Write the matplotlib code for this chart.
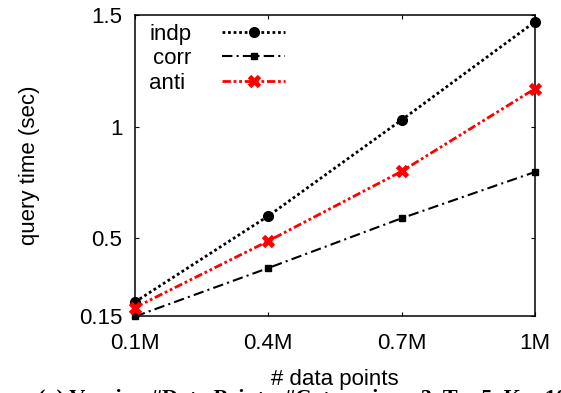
import matplotlib
matplotlib.use('Agg')
import matplotlib.pyplot as plt

# values
x_labels = ['0.1M', '0.4M', '0.7M', '1M']
x_vals = [0.1, 0.4, 0.7, 1.0]
indp = [0.215, 0.60, 1.03, 1.47]
corr = [0.15, 0.367, 0.59, 0.797]
anti = [0.19, 0.488, 0.80, 1.17]
y_ticks = [0.15, 0.5, 1.0, 1.5]
y_tick_labels = ['0.15', '0.5', '1', '1.5']

plt.rcParams['font.family'] = ['Liberation Sans', 'DejaVu Sans']

fig = plt.figure(figsize=(5.61, 3.93), dpi=100)
ax = fig.add_axes([0.2406, 0.1947, 0.713, 0.7671])

ax.plot(x_vals, indp, color='black', linestyle=(0, (1, 1)), linewidth=2,
        marker='o', markersize=7, label='indp', clip_on=False, zorder=3)
ax.plot(x_vals, corr, color='black', linestyle=(0, (5, 2, 1, 2)), linewidth=1.5,
        marker='s', markersize=4.5, label='corr', clip_on=False, zorder=3)
ax.plot(x_vals, anti, color='red', linestyle=(0, (3, 1, 1, 1, 1, 1)), linewidth=2,
        marker='x', markersize=7.5, markeredgewidth=3.5, label='anti ',
        clip_on=False, zorder=4)

ax.set_xlim(0.1, 1.0)
ax.set_ylim(0.15, 1.5)
ax.set_xticks(x_vals)
ax.set_xticklabels(x_labels)
ax.set_yticks(y_ticks)
ax.set_yticklabels(y_tick_labels)
ax.tick_params(direction='in', top=True, right=True, length=3, width=0.8,
               labelsize=16)
ax.tick_params(axis='y', pad=9)
ax.tick_params(axis='x', pad=12)
for s in ax.spines.values():
    s.set_linewidth(1.1)

ax.set_xlabel('# data points', fontsize=16)
ax.set_ylabel('query time (sec)', fontsize=16)
ax.xaxis.set_label_coords(0.5, -0.175)
ax.yaxis.set_label_coords(-0.237, 0.5)

ax.legend(loc='upper left', bbox_to_anchor=(0.013, 1.0), frameon=False,
          markerfirst=False, fontsize=16, handlelength=2.8, handletextpad=1.4,
          labelspacing=0.15, borderaxespad=0.0)

# caption of the sub-figure, cut off at the bottom edge as in the source
fig.text(0.068, 0.009, '(a) Varying #Data Points, #Categories = 3, T = 5, K = 10',
         family='Liberation Serif', fontweight='bold', fontsize=16, va='top')

fig.savefig('out.png', dpi=100)
